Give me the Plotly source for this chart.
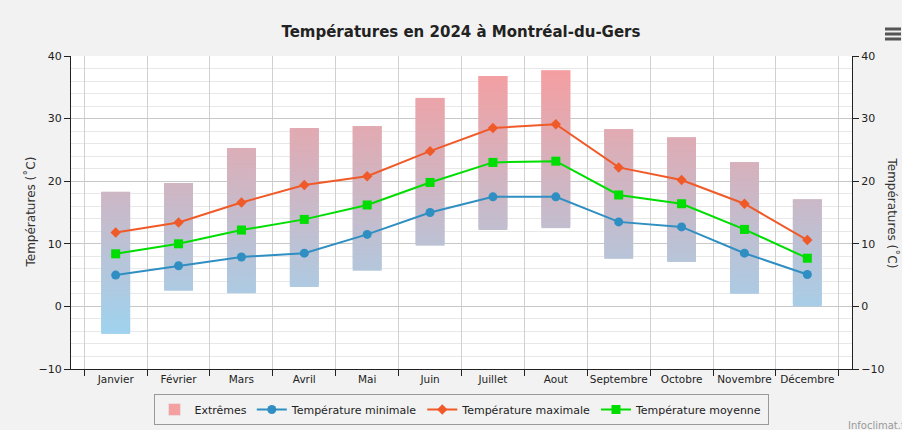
import plotly.graph_objects as go

months = ["Janvier", "Février", "Mars", "Avril", "Mai", "Juin", "Juillet",
          "Aout", "Septembre", "Octobre", "Novembre", "Décembre"]
ext_low = [-4.4, 2.5, 2.1, 3.1, 5.7, 9.7, 12.2, 12.5, 7.6, 7.1, 2.0, 0.0]
ext_high = [18.3, 19.7, 25.3, 28.4, 28.8, 33.3, 36.8, 37.7, 28.3, 27.0, 23.0, 17.1]
t_min = [5.0, 6.5, 7.9, 8.5, 11.5, 15.0, 17.5, 17.5, 13.5, 12.7, 8.5, 5.1]
t_max = [11.8, 13.4, 16.6, 19.4, 20.8, 24.8, 28.5, 29.1, 22.2, 20.2, 16.4, 10.6]
t_mean = [8.4, 10.0, 12.2, 13.9, 16.2, 19.8, 23.0, 23.2, 17.8, 16.4, 12.3, 7.7]

FONT = "DejaVu Sans"

# gradient colours for the "Extrêmes" bars (by temperature, as displayed)
C_LOW = (158, 212, 240)
C_HIGH = (245, 158, 160)
T_LOW, T_HIGH = -5.0, 38.0


def temp_color(t):
    f = min(max((t - T_LOW) / (T_HIGH - T_LOW), 0), 1)
    r, g, b = (C_LOW[i] + (C_HIGH[i] - C_LOW[i]) * f for i in range(3))
    return f"rgb({r:.0f},{g:.0f},{b:.0f})"


# split each extreme bar into small overlapping segments to emulate a gradient
seg_x, seg_base, seg_h, seg_c = [], [], [], []
STEP = 0.4
for m, lo, hi in zip(months, ext_low, ext_high):
    t = lo
    while t < hi - 1e-9:
        top = min(t + 2 * STEP, hi)
        seg_x.append(m)
        seg_base.append(t)
        seg_h.append(top - t)
        seg_c.append(temp_color(t + STEP / 2))
        t = min(t + STEP, hi)

fig = go.Figure()
fig.add_trace(go.Bar(
    x=seg_x, y=seg_h, base=seg_base, width=0.46,
    marker=dict(color=seg_c, line=dict(width=0)),
    showlegend=False, hoverinfo="skip",
))
# legend entry for the extremes
fig.add_trace(go.Bar(x=[None], y=[None], name="Extrêmes",
                     marker=dict(color="#f4a0a0"), showlegend=True))
fig.add_trace(go.Scatter(x=months, y=t_min, name="Température minimale",
                         mode="lines+markers",
                         line=dict(color="#2f8fc2", width=2),
                         marker=dict(symbol="circle", size=9, color="#2f8fc2")))
fig.add_trace(go.Scatter(x=months, y=t_max, name="Température maximale",
                         mode="lines+markers",
                         line=dict(color="#f05a28", width=2),
                         marker=dict(symbol="diamond", size=8, color="#f05a28")))
fig.add_trace(go.Scatter(x=months, y=t_mean, name="Température moyenne",
                         mode="lines+markers",
                         line=dict(color="#00dd00", width=2),
                         marker=dict(symbol="square", size=9, color="#00dd00")))
# invisible trace to activate right axis
fig.add_trace(go.Scatter(x=months, y=t_mean, yaxis="y2", mode="lines",
                         line=dict(width=0), opacity=0, showlegend=False,
                         hoverinfo="skip"))

axis_common = dict(
    range=[-10, 40], dtick=10, showline=True, linecolor="#222", linewidth=1,
    ticks="outside", ticklen=6, tickcolor="#222", zeroline=False,
    automargin=False,
    tickfont=dict(family=FONT, size=11, color="#222"),
)

fig.update_layout(
    width=902, height=430,
    margin=dict(l=71, r=50, t=56, b=61, autoexpand=False),
    paper_bgcolor="#f2f2f2", plot_bgcolor="#ffffff",
    barmode="overlay",
    title=dict(text="<b>Températures en 2024 à Montréal-du-Gers</b>",
               x=0.511, xanchor="center", y=1 - 32 / 430, yanchor="middle",
               xref="container", yref="container",
               font=dict(family=FONT, size=15, color="#222")),
    xaxis=dict(type="category", categoryorder="array", categoryarray=months,
               showline=True, linecolor="#222", linewidth=1,
               ticks="outside", ticklen=6, tickcolor="#222", tickangle=0,
               automargin=False,
               tickson="boundaries", showgrid=True, gridcolor="#d0d0d0",
               tickfont=dict(family=FONT, size=10.5, color="#222")),
    yaxis=dict(**axis_common, showgrid=True, gridcolor="#c8c8c8",
               minor=dict(dtick=2, showgrid=True, gridcolor="#e8e8e8")),
    yaxis2=dict(**axis_common, overlaying="y", side="right", showgrid=False),
    legend=dict(orientation="h", x=461 / 902, xanchor="center",
                xref="container", yref="container",
                y=1 - 394 / 430, yanchor="top", bgcolor="rgba(0,0,0,0)",
                bordercolor="#999", borderwidth=1,
                font=dict(family=FONT, size=11, color="#222"),
                traceorder="normal", itemwidth=30),
    annotations=[
        dict(text="Températures (˚C)", xref="paper", yref="paper",
             x=(30 - 71) / 781, y=0.5, textangle=-90, showarrow=False,
             xanchor="center", yanchor="middle",
             font=dict(family=FONT, size=12, color="#333")),
        dict(text="Températures (˚C)", xref="paper", yref="paper",
             x=(892 - 71) / 781, y=0.5, textangle=90, showarrow=False,
             xanchor="center", yanchor="middle",
             font=dict(family=FONT, size=12, color="#333")),
        dict(text="Infoclimat.fr", xref="paper", yref="paper",
             x=(846 - 71) / 781, y=(369 - 425) / 313, xanchor="left",
             yanchor="middle", showarrow=False,
             font=dict(family=FONT, size=10, color="#999")),
    ],
    shapes=[
        dict(type="line", xref="paper", yref="paper",
             x0=(885 - 71) / 781, x1=(901 - 71) / 781,
             y0=(369 - py) / 313, y1=(369 - py) / 313,
             line=dict(color="#555", width=3))
        for py in (29, 34, 39)
    ],
)

fig.write_html(
    "out.html",
    config={"displayModeBar": False},
    post_script="document.body.style.margin='0';"
                "document.body.style.background='#f2f2f2';",
)
